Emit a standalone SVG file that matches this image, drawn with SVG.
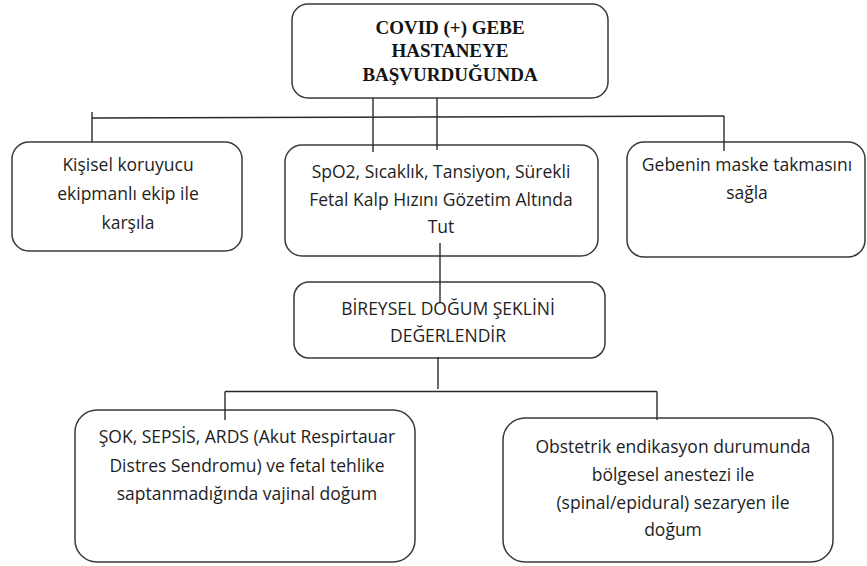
<svg xmlns="http://www.w3.org/2000/svg" width="867" height="566" viewBox="0 0 867 566">
<style>
.box{fill:#ffffff;stroke:#3a3a3a;stroke-width:1.5}
.t{font-family:"Open Sans","Liberation Sans",sans-serif;font-size:17.5px;fill:#1e1e1e;text-anchor:middle}
.h{font-family:"Liberation Serif","Times New Roman",serif;font-size:19px;font-weight:bold;fill:#141414;text-anchor:middle}
.c{stroke:#2a2a2a;stroke-width:1.4;fill:none}
</style>
<rect width="867" height="566" fill="#ffffff"/>
<g id="node-top">
<rect class="box" x="292" y="4" width="316" height="94" rx="16"/>
<text class="h" x="450" y="33.5">COVID (+) GEBE</text>
<text class="h" x="450" y="57">HASTANEYE</text>
<text class="h" x="450" y="81">BAŞVURDUĞUNDA</text>
</g>
<g id="node-ekip">
<rect class="box" x="12" y="142" width="230" height="109" rx="17"/>
<text class="t" x="128" y="171">Kişisel koruyucu</text>
<text class="t" x="128" y="200">ekipmanlı ekip ile</text>
<text class="t" x="128" y="229">karşıla</text>
</g>
<g id="node-spo2">
<rect class="box" x="285" y="145" width="313" height="111" rx="17"/>
<text class="t" x="441" y="178">SpO2, Sıcaklık, Tansiyon, Sürekli</text>
<text class="t" x="441" y="205.5">Fetal Kalp Hızını Gözetim Altında</text>
<text class="t" x="441" y="233">Tut</text>
</g>
<g id="node-maske">
<rect class="box" x="627" y="142" width="238" height="115" rx="17"/>
<text class="t" x="747" y="171">Gebenin maske takmasını</text>
<text class="t" x="747" y="199">sağla</text>
</g>
<g id="node-bireysel">
<rect class="box" x="294" y="282" width="311" height="76" rx="15"/>
<text class="t" x="448" y="315">BİREYSEL DOĞUM ŞEKLİNİ</text>
<text class="t" x="448" y="342">DEĞERLENDİR</text>
</g>
<g id="node-vajinal">
<rect class="box" x="75" y="410" width="340" height="152" rx="22"/>
<text class="t" x="247" y="443">ŞOK, SEPSİS, ARDS (Akut Respirtauar</text>
<text class="t" x="247" y="471.5">Distres Sendromu) ve fetal tehlike</text>
<text class="t" x="247" y="500">saptanmadığında vajinal doğum</text>
</g>
<g id="node-sezaryen">
<rect class="box" x="503" y="418" width="330" height="144" rx="22"/>
<text class="t" x="673" y="453">Obstetrik endikasyon durumunda</text>
<text class="t" x="673" y="481">bölgesel anestezi ile</text>
<text class="t" x="673" y="508.5">(spinal/epidural) sezaryen ile</text>
<text class="t" x="673" y="536">doğum</text>
</g>
<g id="connectors">
<path class="c" d="M92,118 L724,116"/>
<path class="c" d="M92,112 L92,142"/>
<path class="c" d="M724,116 L724,151"/>
<path class="c" d="M373,98 L373,152"/>
<path class="c" d="M437,98 L437,150"/>
<path class="c" d="M440,243 L440,302"/>
<path class="c" d="M438,357 L438,389"/>
<path class="c" d="M225,391.5 L657,391.5"/>
<path class="c" d="M225,391.5 L225,420"/>
<path class="c" d="M657,391.5 L657,420"/>
</g>
</svg>
